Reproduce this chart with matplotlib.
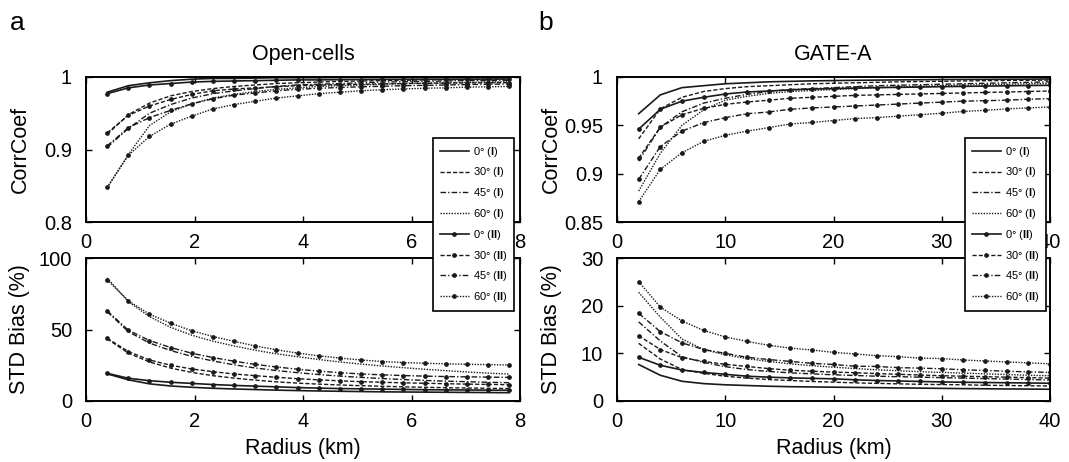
import matplotlib
matplotlib.use("Agg")
import matplotlib.pyplot as plt
from matplotlib.lines import Line2D

plt.rcParams['font.family'] = ['Liberation Sans', 'DejaVu Sans']
plt.rcParams['mathtext.fontset'] = 'custom'
plt.rcParams['mathtext.rm'] = 'Liberation Sans'
plt.rcParams['mathtext.bf'] = 'Liberation Sans:bold'

# ---------------- data ----------------
x_left = [0.39, 0.78, 1.17, 1.56, 1.95, 2.34, 2.73, 3.12, 3.51, 3.90,
          4.29, 4.68, 5.07, 5.46, 5.85, 6.24, 6.63, 7.02, 7.41, 7.80]
x_right = [2, 4, 6, 8, 10, 12, 14, 16, 18, 20,
           22, 24, 26, 28, 30, 32, 34, 36, 38, 40]

angles = ["0°", "30°", "45°", "60°"]

# Open-cells CorrCoef
oc_corr_I = {
    "0°":  [0.979, 0.988, 0.992, 0.995, 0.997, 0.998, 0.998, 0.9985, 0.999, 0.999,
            0.999, 0.9992, 0.9993, 0.9994, 0.9995, 0.9995, 0.9996, 0.9996, 0.9997, 0.9997],
    "30°": [0.921, 0.948, 0.964, 0.974, 0.980, 0.984, 0.987, 0.989, 0.991, 0.992,
            0.993, 0.994, 0.9945, 0.995, 0.9955, 0.996, 0.9962, 0.9965, 0.9967, 0.997],
    "45°": [0.903, 0.929, 0.950, 0.962, 0.971, 0.977, 0.981, 0.984, 0.987, 0.989,
            0.990, 0.991, 0.992, 0.993, 0.9935, 0.994, 0.9945, 0.995, 0.995, 0.9953],
    "60°": [0.847, 0.893, 0.933, 0.952, 0.963, 0.971, 0.976, 0.980, 0.983, 0.985,
            0.987, 0.988, 0.989, 0.990, 0.991, 0.9915, 0.992, 0.9925, 0.993, 0.9933],
}
oc_corr_II = {
    "0°":  [0.977, 0.985, 0.989, 0.991, 0.993, 0.994, 0.9945, 0.995, 0.9955, 0.996,
            0.996, 0.9963, 0.9965, 0.9967, 0.9968, 0.997, 0.997, 0.9971, 0.9972, 0.9973],
    "30°": [0.923, 0.947, 0.960, 0.969, 0.976, 0.981, 0.9835, 0.985, 0.9866, 0.988,
            0.9888, 0.9895, 0.990, 0.9905, 0.991, 0.9913, 0.9916, 0.9918, 0.992, 0.9922],
    "45°": [0.905, 0.930, 0.944, 0.954, 0.963, 0.970, 0.975, 0.978, 0.981, 0.983,
            0.9845, 0.9855, 0.9865, 0.9872, 0.988, 0.9885, 0.989, 0.9895, 0.990, 0.9903],
    "60°": [0.848, 0.892, 0.918, 0.935, 0.946, 0.956, 0.962, 0.9665, 0.971, 0.974,
            0.977, 0.979, 0.981, 0.9825, 0.9835, 0.9845, 0.985, 0.986, 0.9865, 0.987],
}
# Open-cells STD Bias (%)
oc_std_I = {
    "0°":  [19.0, 14.8, 12.0, 10.5, 9.6, 8.9, 8.4, 8.0, 7.6, 7.3,
            7.0, 6.8, 6.6, 6.4, 6.3, 6.2, 6.1, 6.0, 5.9, 5.8],
    "30°": [43.5, 33.5, 27.3, 23.0, 20.0, 17.7, 16.0, 14.6, 13.4, 12.5,
            11.8, 11.2, 10.7, 10.3, 9.9, 9.6, 9.3, 9.1, 8.9, 8.7],
    "45°": [62.5, 48.5, 40.5, 35.3, 31.2, 28.0, 25.3, 23.1, 21.3, 19.8,
            18.5, 17.4, 16.5, 15.7, 15.0, 14.4, 13.9, 13.5, 13.1, 12.8],
    "60°": [86.0, 69.5, 59.0, 51.5, 46.0, 41.8, 38.5, 35.5, 33.0, 31.0,
            29.0, 27.3, 25.8, 24.5, 23.3, 22.2, 21.2, 20.3, 19.5, 18.8],
}
oc_std_II = {
    "0°":  [19.4, 15.9, 14.2, 13.1, 12.3, 11.5, 10.9, 10.4, 9.9, 9.4,
            9.0, 8.7, 8.5, 8.3, 8.1, 7.9, 7.8, 7.7, 7.6, 7.5],
    "30°": [43.9, 34.6, 28.7, 25.0, 22.4, 20.5, 18.9, 17.7, 16.6, 15.6,
            14.8, 14.1, 13.5, 13.1, 12.7, 12.4, 12.1, 11.8, 11.6, 11.4],
    "45°": [63.1, 49.5, 42.3, 37.4, 33.4, 30.4, 27.8, 25.6, 23.8, 22.2,
            20.9, 19.8, 18.9, 18.3, 17.8, 17.4, 17.1, 16.9, 16.7, 16.5],
    "60°": [84.8, 70.1, 60.7, 54.4, 49.1, 45.1, 41.7, 38.5, 35.8, 33.5,
            31.6, 30.0, 28.7, 27.6, 26.9, 26.4, 26.0, 25.7, 25.4, 25.2],
}

# GATE-A CorrCoef
ga_corr_I = {
    "0°":  [0.962, 0.9815, 0.989, 0.991, 0.993, 0.994, 0.995, 0.9955, 0.996, 0.9963,
            0.9966, 0.9968, 0.997, 0.9972, 0.9974, 0.9975, 0.9976, 0.9977, 0.9978, 0.998],
    "30°": [0.936, 0.967, 0.979, 0.985, 0.988, 0.990, 0.991, 0.992, 0.993, 0.9935,
            0.994, 0.9945, 0.995, 0.9953, 0.9956, 0.9959, 0.9962, 0.9964, 0.9966, 0.9968],
    "45°": [0.913, 0.948, 0.964, 0.973, 0.978, 0.982, 0.985, 0.987, 0.988, 0.989,
            0.990, 0.991, 0.9915, 0.992, 0.9925, 0.993, 0.9935, 0.994, 0.9945, 0.995],
    "60°": [0.882, 0.921, 0.950, 0.966, 0.976, 0.980, 0.983, 0.985, 0.986, 0.987,
            0.988, 0.989, 0.9897, 0.9903, 0.991, 0.9915, 0.992, 0.9925, 0.993, 0.9933],
}
ga_corr_II = {
    "0°":  [0.946, 0.9666, 0.975, 0.979, 0.9824, 0.9845, 0.9855, 0.9867, 0.9875, 0.988,
            0.9885, 0.989, 0.9893, 0.9896, 0.990, 0.9903, 0.9906, 0.9909, 0.9912, 0.9914],
    "30°": [0.916, 0.948, 0.961, 0.9676, 0.9717, 0.9741, 0.976, 0.978, 0.979, 0.980,
            0.981, 0.9815, 0.982, 0.9825, 0.983, 0.9835, 0.984, 0.9845, 0.985, 0.9855],
    "45°": [0.894, 0.928, 0.944, 0.9528, 0.9579, 0.962, 0.9638, 0.9666, 0.968, 0.969,
            0.970, 0.971, 0.972, 0.973, 0.974, 0.975, 0.9755, 0.976, 0.977, 0.9776],
    "60°": [0.871, 0.9045, 0.9217, 0.9334, 0.9397, 0.944, 0.9476, 0.9514, 0.953, 0.955,
            0.957, 0.958, 0.9595, 0.961, 0.9625, 0.9644, 0.9655, 0.967, 0.968, 0.969],
}
# GATE-A STD Bias (%)
ga_std_I = {
    "0°":  [7.66, 5.4, 4.14, 3.65, 3.4, 3.25, 3.1, 3.0, 2.95, 2.9,
            2.85, 2.8, 2.75, 2.7, 2.65, 2.6, 2.57, 2.53, 2.5, 2.47],
    "30°": [12.1, 8.8, 6.6, 5.8, 5.2, 4.8, 4.5, 4.3, 4.1, 3.95,
            3.8, 3.7, 3.6, 3.5, 3.45, 3.4, 3.3, 3.25, 3.2, 3.15],
    "45°": [16.6, 12.6, 9.3, 8.1, 7.2, 6.6, 6.2, 5.9, 5.7, 5.5,
            5.35, 5.2, 5.1, 5.0, 4.9, 4.8, 4.7, 4.6, 4.5, 4.4],
    "60°": [22.8, 17.6, 13.0, 10.8, 9.7, 8.9, 8.3, 7.8, 7.4, 7.1,
            6.8, 6.55, 6.35, 6.15, 6.0, 5.85, 5.7, 5.55, 5.4, 5.3],
}
ga_std_II = {
    "0°":  [9.17, 7.5, 6.5, 6.0, 5.6, 5.2, 5.0, 4.85, 4.75, 4.65,
            4.45, 4.3, 4.2, 4.1, 4.0, 3.93, 3.88, 3.83, 3.78, 3.73],
    "30°": [13.7, 10.8, 9.1, 8.3, 7.7, 7.25, 6.8, 6.45, 6.25, 6.07,
            5.93, 5.75, 5.6, 5.45, 5.3, 5.2, 5.1, 5.0, 4.9, 4.8],
    "45°": [18.4, 14.55, 12.2, 10.8, 10.0, 9.17, 8.7, 8.3, 7.9, 7.66,
            7.3, 7.25, 7.0, 6.9, 6.76, 6.55, 6.4, 6.25, 6.1, 6.0],
    "60°": [25.05, 19.7, 16.8, 14.8, 13.45, 12.5, 11.7, 11.1, 10.7, 10.2,
            9.87, 9.5, 9.3, 9.0, 8.9, 8.6, 8.4, 8.2, 8.0, 7.8],
}

titles = ["Open-cells", "GATE-A"]
panel_letters = ["a", "b"]

# ---------------- styles ----------------
styles = {
    "0°":  dict(linestyle="-", lw=1.2),
    "30°": dict(linestyle=(0, (3.0, 1.5)), lw=1.0),
    "45°": dict(linestyle=(0, (4.0, 1.5, 1.0, 1.5)), lw=1.0),
    "60°": dict(linestyle=(0, (1.0, 1.0)), lw=1.0),
}
COL = "#1a1a1a"
MS = 2.4

W, H = 1069, 462
fig = plt.figure(figsize=(W / 100, H / 100), dpi=100)


def fbox(x0, y0, x1, y1):
    return [x0 / W, 1 - y1 / H, (x1 - x0) / W, (y1 - y0) / H]


axes_top = [fig.add_axes(fbox(86, 77, 520, 222)), fig.add_axes(fbox(617, 77, 1050, 222))]
axes_bot = [fig.add_axes(fbox(86, 258, 520, 401)), fig.add_axes(fbox(617, 258, 1050, 401))]

datasets = [
    (x_left, oc_corr_I, oc_corr_II, oc_std_I, oc_std_II),
    (x_right, ga_corr_I, ga_corr_II, ga_std_I, ga_std_II),
]

FS_TICK = 14.5
FS_LAB = 15.5


def style_axis(ax):
    for s in ax.spines.values():
        s.set_linewidth(1.4)
        s.set_color("black")
    ax.tick_params(direction="in", length=4, width=1.0, top=True, right=True,
                   labelsize=FS_TICK)
    ax.tick_params(axis="y", pad=10)
    ax.tick_params(axis="x", pad=8)


for i, (xs, cI, cII, sI, sII) in enumerate(datasets):
    at, ab = axes_top[i], axes_bot[i]
    for a in angles:
        st = styles[a]
        at.plot(xs, cI[a], color=COL, **st)
        at.plot(xs, cII[a], color=COL, marker="o", ms=MS, **st)
        ab.plot(xs, sI[a], color=COL, **st)
        ab.plot(xs, sII[a], color=COL, marker="o", ms=MS, **st)
    for ax in (at, ab):
        style_axis(ax)

# limits and ticks
axes_top[0].set_xlim(0, 8); axes_bot[0].set_xlim(0, 8)
axes_top[0].set_xticks([0, 2, 4, 6, 8]); axes_bot[0].set_xticks([0, 2, 4, 6, 8])
axes_top[0].set_ylim(0.8, 1.0)
axes_top[0].set_yticks([0.8, 0.9, 1.0]); axes_top[0].set_yticklabels(["0.8", "0.9", "1"])
axes_bot[0].set_ylim(0, 100); axes_bot[0].set_yticks([0, 50, 100])

axes_top[1].set_xlim(0, 40); axes_bot[1].set_xlim(0, 40)
axes_top[1].set_xticks([0, 10, 20, 30, 40]); axes_bot[1].set_xticks([0, 10, 20, 30, 40])
axes_top[1].set_ylim(0.85, 1.0)
axes_top[1].set_yticks([0.85, 0.9, 0.95, 1.0])
axes_top[1].set_yticklabels(["0.85", "0.9", "0.95", "1"])
axes_bot[1].set_ylim(0, 30); axes_bot[1].set_yticks([0, 10, 20, 30])

for i in range(2):
    axes_top[i].set_ylabel("CorrCoef", fontsize=FS_LAB)
    axes_bot[i].set_ylabel("STD Bias (%)", fontsize=FS_LAB)
    axes_top[i].yaxis.set_label_coords(-0.128, 0.5)
    axes_bot[i].yaxis.set_label_coords(-0.128, 0.5)
    axes_bot[i].set_xlabel("Radius (km)", fontsize=FS_LAB)
    axes_bot[i].xaxis.set_label_coords(0.5, -0.26)
    axes_top[i].set_title(titles[i], fontsize=FS_LAB, pad=12)

fig.text(17 / W, 1 - 23 / H, panel_letters[0], fontsize=19, va="center", ha="center")
fig.text(546 / W, 1 - 23 / H, panel_letters[1], fontsize=19, va="center", ha="center")

# legends
handles, labels = [], []
for a in angles:
    handles.append(Line2D([], [], color=COL, **styles[a]))
    labels.append(a + r" ($\mathbf{I}$)")
for a in angles:
    handles.append(Line2D([], [], color=COL, marker="o", ms=MS, **styles[a]))
    labels.append(a + r" ($\mathbf{II}$)")

for x0 in (433, 965):
    leg = fig.legend(handles, labels, loc="upper left",
                     bbox_to_anchor=(x0 / W, 1 - 138 / H),
                     bbox_transform=fig.transFigure, borderaxespad=0,
                     fontsize=8, frameon=True, fancybox=False,
                     edgecolor="black", framealpha=1, numpoints=1,
                     handlelength=2.6, handletextpad=0.4, labelspacing=0.61,
                     borderpad=0.6)
    leg.get_frame().set_linewidth(1.2)
    leg.set_zorder(10)

fig.savefig("out.png", dpi=100)
